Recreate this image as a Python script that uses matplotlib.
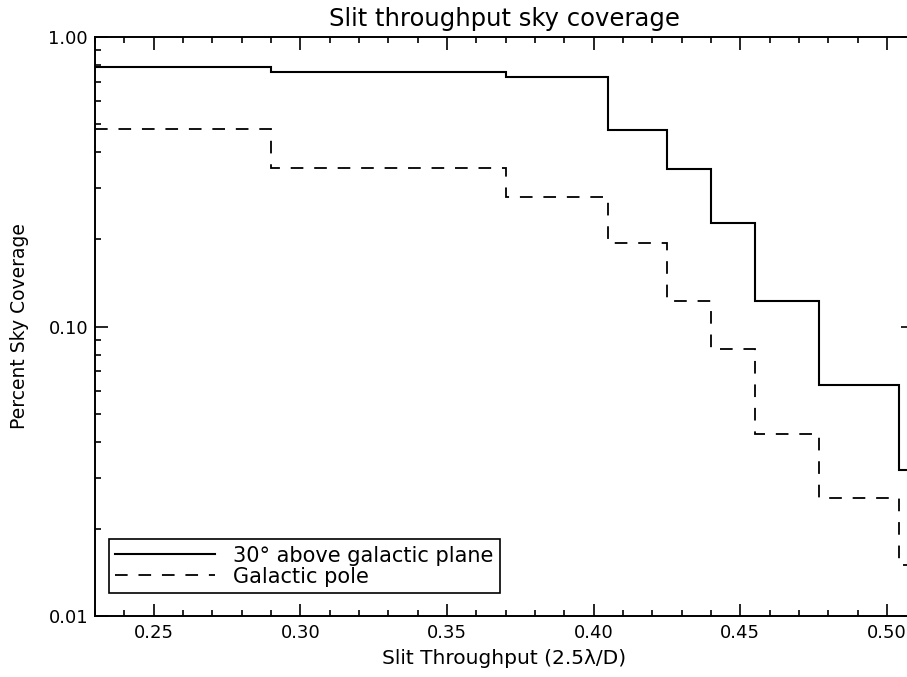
import numpy as np
import matplotlib
matplotlib.use("Agg")
import matplotlib.pyplot as plt
from matplotlib.ticker import LogLocator, FixedLocator, MultipleLocator, FixedFormatter

# bin edges in slit throughput (units of 2.5 lambda/D)
edges = [0.230, 0.290, 0.370, 0.405, 0.425, 0.440, 0.455, 0.477, 0.504, 0.509]
# fraction of sky covered
plane30 = [0.79, 0.76, 0.73, 0.478, 0.35, 0.228, 0.122, 0.0628, 0.0319]
pole = [0.482, 0.354, 0.279, 0.194, 0.1223, 0.0833, 0.0424, 0.0256, 0.015]

xticks = [0.25, 0.30, 0.35, 0.40, 0.45, 0.50]
xlabels = ["0.25", "0.30", "0.35", "0.40", "0.45", "0.50"]
yticks = [0.01, 0.1, 1.0]
ylabels = ["0.01", "0.10", "1.00"]

plt.rcParams['font.family'] = ['DejaVu Sans']

fig = plt.figure(figsize=(9.07, 6.77), dpi=100)
# right spine sits just outside the picture, as in the original scan
ax = fig.add_axes([95 / 907, 1 - 616 / 677, (913 - 95) / 907, (616 - 37) / 677])

ax.stairs(plane30, edges, baseline=None, color="black", lw=1.5,
          label="30\u00b0 above galactic plane")
ax.stairs(pole, edges, baseline=None, color="black", lw=1.3,
          linestyle=(0, (7, 6)), label="Galactic pole")

ax.set_yscale("log")
ax.set_xlim(0.230, 0.5089)
ax.set_ylim(0.01, 1.0)

ax.xaxis.set_major_locator(FixedLocator(xticks))
ax.xaxis.set_major_formatter(FixedFormatter(xlabels))
ax.xaxis.set_minor_locator(MultipleLocator(0.01))
ax.yaxis.set_major_locator(FixedLocator(yticks))
ax.yaxis.set_major_formatter(FixedFormatter(ylabels))
ax.yaxis.set_minor_locator(LogLocator(base=10, subs=np.arange(2, 10)))
ax.yaxis.set_minor_formatter(FixedFormatter([]))

ax.tick_params(which="both", direction="in", top=True, right=True,
               labelsize=13, width=1.2)
ax.tick_params(which="major", length=9, pad=6)
ax.tick_params(which="minor", length=4.5)
ax.tick_params(axis="y", which="major", pad=5)
for s in ax.spines.values():
    s.set_linewidth(1.4)

ax.set_title("Slit throughput sky coverage", fontsize=17.5, pad=8)
ax.set_xlabel("Slit Throughput (2.5\u03bb/D)", fontsize=14.5, labelpad=5)
ax.set_ylabel("Percent Sky Coverage", fontsize=13.5, labelpad=14)

leg = ax.legend(loc="lower left", bbox_to_anchor=(0.0171, 0.0397), fontsize=15,
                frameon=True, fancybox=False, edgecolor="black", framealpha=1,
                handlelength=4.8, handletextpad=0.87, borderpad=0.3,
                labelspacing=0.05, borderaxespad=0)
leg.get_frame().set_linewidth(1.2)

fig.savefig("out.png", dpi=100)
